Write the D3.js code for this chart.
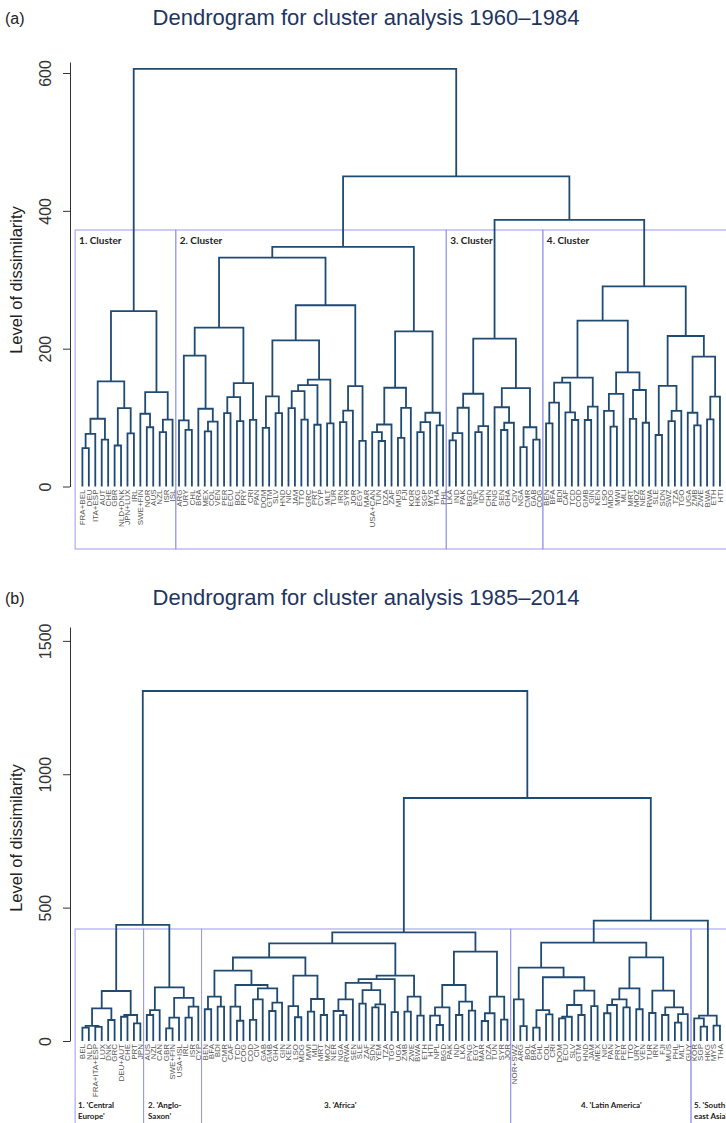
<!DOCTYPE html>
<html>
<head>
<meta charset="utf-8">
<script src="https://cdn.jsdelivr.net/npm/d3@7"></script>
<style>
  body { margin: 0; background: #fff; }
  svg { display: block; }
</style>
</head>
<body>
<div id="chart"></div>
<script>
// ---------- data: panel (a) 1960-1984 ----------
const aLeaves1 = ["FRA+BEL","DEU","ITA+ESP","AUT","CHE","GBR","NLD+DNK","JPN+LUX","IRL","SWE+FIN","NOR","AUS","NZL","ISR","ISL"];
const aLeaves2 = ["ARG","URY","CHL","BRA","MEX","COL","VEN","PER","ECU","BOL","PRY","CRI","PAN","DOM","GTM","SLV","HND","NIC","JAM","TTO","GRC","PRT","CYP","MLT","TUR","IRN","SYR","JOR","EGY","MAR","USA+CAN","TUN","DZA","ZAF","MUS","FJI","KOR","HKG","SGP","MYS","THA","PHL"];
const aLeaves3 = ["LKA","IND","PAK","BGD","NPL","IDN","CHN","PNG","SEN","GHA","CIV","NGA","CMR","GAB","COG"];
const aLeaves4 = ["BEN","BFA","BDI","CAF","TCD","COD","GMB","GIN","KEN","LSO","MDG","MWI","MLI","MRT","MOZ","NER","RWA","SLE","SDN","SWZ","TZA","TGO","UGA","ZMB","ZWE","BWA","ETH","HTI"];
const aClusterNames = ["1. Cluster", "2. Cluster", "3. Cluster", "4. Cluster"];
const aTicks = [0, 200, 400, 600];

// merge trees: [height, left, right], leaves are indices into the leaf list
const aCluster1 = [254.6,
  [152.5, [98.3, [76.5, [55.6, 0, 1], 2], [68, 3, 4]], [113.7, [59.5, 5, 6], [77, 7, 8]]],
  [137, [105.6, 9, [86, 10, 11]], [97, [79, 12, 13], 14]]];
const aCluster2 = [347.6,
  [332,
    [230.5,
      [189.8, [95.9, 15, [82.3, 16, 17]], [112.8, 18, [94, [80, 19, 20], 21]]],
      [150, [129.7, [106.5, 22, 23], [94.9, 24, 25]], [96.8, 26, 27]]],
    [263,
      [212, [130.7, [85, 28, 29], [106.5, 30, 31]],
        [155, [147, [138.5, [113.8, 32, 33], [97, 34, 35]], [89.6, 36, 37]], [91.5, 38, 39]]],
      [145.7, [110, [93.4, 40, 41], 42], [66.3, 43, 44]]]],
  [225,
    [143.3, [90, [79, 45, [66, 46, 47]], 48], [114, [70.7, 49, 50], 51]],
    [107, [93.4, [79, 52, 53], 54], [88.6, 55, 56]]]];
const aCluster3 = [214.5,
  [134.6, [114.3, [77.5, [66.8, 57, 58], 59], 60], [87.6, [79, 61, 62], 63]],
  [142.8, [115, 64, [92.5, [82, 65, 66], 67]], [86, [57, 68, 69], [68, 70, 71]]]];
const aCluster4 = [290.5,
  [240.7,
    [158, [150.7, [121.6, [91.7, 72, 73], 74], [107.7, 75, [96.5, 76, 77]]], [115.8, [96.5, 78, 79], 80]],
    [165.7, [134.3, [109.6, 81, [86.8, 82, 83]], 84], [140, [98, 85, 86], [92.5, 87, 88]]]],
  [218.4,
    [146, [74.7, 89, 90], [109.6, [95, 91, 92], 93]],
    [188.4, [107, 94, [88.8, 95, 96]], [130.4, [97.5, 97, 98], 99]]]];
const aTop = [606, aCluster1, [450, aCluster2, [387, aCluster3, aCluster4]]];

// ---------- data: panel (b) 1985-2014 ----------
const bLeaves1 = ["BEL","NLD","FRA+ITA+ESP","LUX","DNK","GRC","DEU+AUT","CHE","PRT","JPN"];
const bLeaves2 = ["AUS","NZL","CAN","GBR","SWE+FIN","USA+ISL","IRL","ISR","CYP"];
const bLeaves3 = ["BEN","BFA","BDI","CMR","CAF","TCD","COG","COD","CIV","GAB","GMB","GHA","GIN","KEN","LSO","MDG","MWI","MLI","MRT","MOZ","NER","NGA","RWA","SEN","SLE","ZAF","SDN","YEM","TZA","TGO","UGA","ZMB","ZWE","BWA","ETH","HTI","NPL","BGD","PAK","IND","LKA","PNG","EGY","MAR","DZA","TUN","SYR","JOR"];
const bLeaves4 = ["NOR+SWZ","ARG","BOL","BRA","CHL","COL","CRI","DOM","ECU","SLV","GTM","HND","JAM","MEX","NIC","PAN","PRY","PER","TTO","URY","VEN","TUR","IRN","FJI","MUS","PHL","MLT","GUY"];
const bLeaves5 = ["KOR","SGP","HKG","MYS","THA"];
const bClusterNames = [["1. 'Central", "Europe'"], ["2. 'Anglo-", "Saxon'"], ["3. 'Africa'"], ["4. 'Latin America'"], ["5. 'South", "east Asia'"]];
const bTicks = [0, 500, 1000, 1500];

const bCluster1 = [187.5,
  [122.6, [57, [50, 0, 1], [53, 2, 3]], [78.7, 4, 5]],
  [97.5, [91, 6, 7], [66, 8, 9]]];
const bCluster2 = [201,
  [116, [97.5, 10, 11], 12],
  [162, [87.5, [47.5, 13, 14], 15], [128.7, [87.5, 16, 17], 18]]];
const bCluster3 = [407.5,
  [366,
    [313,
      [263.8,
        [166, [119, 19, 20], [129, 21, 22]],
        [210, [128.7, 23, [76, 24, 25]], [197.5, [156, [79, 26, 27], 28], [143.7, [112.5, 29, 30], 31]]]],
      [245, [131, 32, [89, 33, 34]], [157.5, [110, 35, 36], [97.5, 37, 38]]]],
    [245,
      [232,
        [218, [156, [112.5, 39, [97, 40, 41]], 42], [191, [140, 43, 44], [137.5, [126, 45, 46], 47]]],
        [108, 48, 49]],
      [166, [110, 50, 51], [95, 52, 53]]]],
  [335,
    [210, [126, [95, 54, [60, 55, 56]], 57], [147.4, [97.5, 58, 59], [113.6, 60, 61]]],
    [166, [104, [75, 62, 63], 64], [80, 65, 66]]]];
const bCluster4 = [368.7,
  [275,
    [156, 67, [56, 68, 69]],
    [239, [116, [50, 70, 71], [100, 72, 73]],
      [188.6, [135, [91, [85, 74, 75], 76], [97.5, 77, 78]], [131, 79, 80]]]],
  [313.8,
    [197.5, [156, [135, [104, 81, 82], 83], [126, 84, 85]], [119, 86, 87]],
    [188.6, [105, 88, 89], [126, [97.5, 90, 91], [101, [68.6, 92, 93], 94]]]]];
const bCluster5 = [95, [85, 95, [54, 96, 97]], [57.5, 98, 99]];
const bTop = [1312, [435, bCluster1, bCluster2], [911, bCluster3, [451, bCluster4, bCluster5]]];

// ---------- layout ----------
const W = 726, H = 1123;
const step = 6.44, firstLeaf = 82.4;
const lineColor = "#1f4a72", boxColor = "#9a9aea";

const svg = d3.select("#chart").append("svg")
  .attr("width", W).attr("height", H)
  .style("font-family", "'Liberation Sans', Arial, sans-serif");
svg.append("rect").attr("width", W).attr("height", H).attr("fill", "#fff");

const panels = [
  { tag: "(a)", title: "Dendrogram for cluster analysis 1960\u20131984", titleY: 25,
    tree: aTop, groups: [aLeaves1, aLeaves2, aLeaves3, aLeaves4], names: aClusterNames,
    ticks: aTicks, yMax: 616, base: 486.5, top: 62, axisTitleY: 280,
    boxTop: 230, boxBottom: 549, labelY: 489.5 },
  { tag: "(b)", title: "Dendrogram for cluster analysis 1985\u20132014", titleY: 605,
    tree: bTop, groups: [bLeaves1, bLeaves2, bLeaves3, bLeaves4, bLeaves5], names: bClusterNames,
    ticks: bTicks, yMax: 1552, base: 1041, top: 627, axisTitleY: 838,
    boxTop: 929, boxBottom: 1135, labelY: 1044 }
];
const bNameX = [78, 148, 324, 581, 694];

panels.forEach((p, pi) => {
  const g = svg.append("g");
  const labels = [].concat(...p.groups);

  g.append("text").attr("x", 5).attr("y", p.titleY - 1)
    .attr("font-size", 16).attr("fill", "#222").text(p.tag);
  g.append("text").attr("x", 366).attr("y", p.titleY)
    .attr("text-anchor", "middle").attr("font-size", 22).attr("fill", "#1e3562")
    .text(p.title);

  const root = d3.hierarchy(p.tree, d => Array.isArray(d) ? d.slice(1) : null);
  const leaves = root.leaves();
  d3.cluster().size([leaves.length * step, 1]).separation(() => 1)(root);
  const x0 = firstLeaf - step / 2;
  const X = d => x0 + d.x;
  const hOf = d => Array.isArray(d.data) ? d.data[0] : 0;

  const y = d3.scaleLinear().domain([0, p.yMax]).range([p.base, p.top]);

  // y axis
  const ax = g.append("g").attr("transform", "translate(70,0)")
    .call(d3.axisLeft(y).tickValues(p.ticks).tickFormat(d3.format("d")).tickSize(7).tickSizeOuter(0));
  ax.selectAll("path, line").attr("stroke", "#333");
  ax.selectAll("text")
    .attr("x", null).attr("dy", null)
    .attr("transform", "translate(-19,0) rotate(-90)")
    .attr("text-anchor", "middle")
    .attr("font-size", 16).attr("fill", "#333")
    .attr("font-family", "'Liberation Sans', Arial, sans-serif");

  g.append("text")
    .attr("transform", `translate(22,${p.axisTitleY}) rotate(-90)`)
    .attr("text-anchor", "middle").attr("font-size", 16.5).attr("fill", "#222")
    .text("Level of dissimilarity");

  // cluster boxes
  let start = 0;
  p.groups.forEach((grp, k) => {
    const s = start, e = start + grp.length - 1;
    start += grp.length;
    const left = s === 0 ? X(leaves[0]) - 7.3 : (X(leaves[s - 1]) + X(leaves[s])) / 2;
    const right = e === leaves.length - 1 ? X(leaves[e]) + 8 : (X(leaves[e]) + X(leaves[e + 1])) / 2;
    g.append("rect")
      .attr("x", left).attr("y", p.boxTop)
      .attr("width", right - left).attr("height", p.boxBottom - p.boxTop)
      .attr("fill", "none").attr("stroke", boxColor).attr("stroke-width", 1);

    const name = p.names[k];
    if (pi === 0) {
      g.append("text").attr("x", left + 4).attr("y", p.boxTop + 14)
        .attr("font-family", "Lato, 'Open Sans', sans-serif").attr("font-weight", "bold")
        .attr("font-size", 10).attr("fill", "#222").text(name);
    } else {
      const t = g.append("text").attr("x", bNameX[k]).attr("y", 1108)
        .attr("font-family", "Lato, 'Open Sans', sans-serif").attr("font-weight", "bold")
        .attr("font-size", 8).attr("fill", "#222");
      name.forEach((line, li) => {
        t.append("tspan").attr("x", bNameX[k]).attr("dy", li === 0 ? 0 : 11).text(line);
      });
    }
  });

  // dendrogram links
  g.append("g")
    .attr("fill", "none").attr("stroke", lineColor)
    .attr("stroke-width", 1.8).attr("stroke-linejoin", "miter")
    .selectAll("path")
    .data(root.descendants().filter(d => d.children))
    .join("path")
    .attr("d", d => {
      const [a, b] = d.children;
      return `M${X(a)},${y(hOf(a))}V${y(hOf(d))}H${X(b)}V${y(hOf(b))}`;
    });

  // leaf labels
  g.append("g")
    .selectAll("text")
    .data(leaves)
    .join("text")
    .attr("transform", d => `translate(${X(d)},${p.labelY}) rotate(-90)`)
    .attr("dy", "0.35em")
    .attr("text-anchor", "end")
    .attr("font-size", 8)
    .attr("fill", "#555")
    .text(d => labels[d.data]);
});
</script>
</body>
</html>
